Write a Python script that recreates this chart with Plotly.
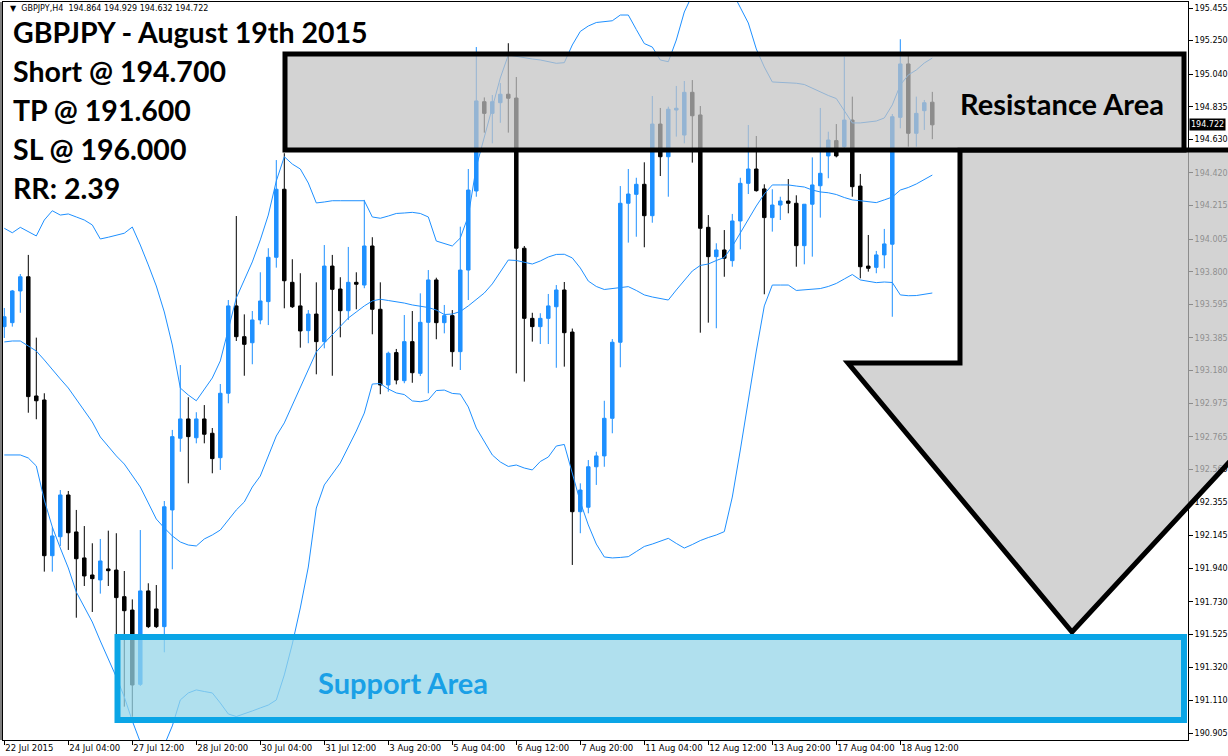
import plotly.graph_objects as go

# ---------------- data ----------------
bar_index = list(range(117))

opens = [193.456, 193.481, 193.680, 193.769, 193.021, 192.996, 192.019, 192.138, 192.400, 192.168,
         192.005, 191.898, 191.867, 191.936, 191.929, 191.762, 191.678, 191.212, 191.798, 191.685,
         191.574, 192.306, 192.756, 192.877, 192.759, 192.877, 192.787, 192.634, 193.038, 193.586,
         193.393, 193.355, 193.498, 193.613, 193.891, 194.318, 193.734, 193.586, 193.431, 193.535,
         193.362, 193.836, 193.692, 193.556, 193.734, 193.717, 193.962, 193.565, 193.090, 193.293,
         193.117, 193.362, 193.163, 193.483, 193.749, 193.481, 193.525, 193.299, 193.811, 194.307,
         194.867, 194.794, 194.861, 194.914, 194.890, 193.948, 193.508, 193.456, 193.508, 193.581,
         193.686, 193.422, 192.295, 192.323, 192.577, 192.645, 192.881, 193.358, 194.230, 194.286,
         194.349, 194.152, 194.727, 194.522, 194.815, 194.658, 194.926, 194.784, 194.079, 193.895,
         193.937, 193.870, 194.119, 194.355, 194.445, 194.320, 194.140, 194.219, 194.244, 194.230,
         193.964, 194.224, 194.340, 194.527, 194.623, 194.585, 194.752, 194.338, 193.836, 193.828,
         193.906, 193.973, 194.769, 195.104, 194.669, 194.811, 194.864]

highs = [193.573, 193.686, 193.786, 193.906, 193.387, 193.038, 192.197, 192.431, 192.425, 192.306,
         192.205, 192.097, 192.124, 192.176, 192.160, 191.923, 191.745, 192.180, 191.846, 191.835,
         192.362, 192.808, 193.215, 193.013, 192.919, 192.964, 192.820, 193.096, 193.623, 194.150,
         193.533, 193.554, 193.797, 193.948, 194.501, 194.544, 193.879, 193.791, 193.560, 193.734,
         193.968, 193.906, 193.766, 193.956, 193.797, 194.251, 194.017, 193.734, 193.299, 193.316,
         193.529, 193.554, 193.665, 193.811, 193.763, 193.592, 193.560, 194.083, 194.445, 195.210,
         194.894, 194.909, 194.984, 195.234, 195.022, 193.962, 193.543, 193.540, 193.661, 193.717,
         193.736, 193.444, 192.473, 192.619, 192.671, 192.991, 193.378, 194.338, 194.445, 194.390,
         194.487, 194.903, 194.828, 194.836, 194.966, 194.997, 195.003, 194.840, 194.156, 193.979,
         194.062, 194.163, 194.390, 194.721, 194.652, 194.349, 194.318, 194.271, 194.382, 194.280,
         194.224, 194.518, 194.828, 194.679, 194.727, 195.150, 194.899, 194.414, 194.031, 193.931,
         194.069, 194.790, 195.259, 195.154, 194.899, 194.878, 194.929]

lows = [193.385, 193.456, 193.543, 192.916, 192.875, 191.919, 191.919, 192.080, 192.055, 191.630,
        191.829, 191.666, 191.781, 191.829, 191.490, 191.072, 191.009, 191.202, 191.565, 191.565,
        191.413, 191.934, 192.671, 192.473, 192.724, 192.724, 192.536, 192.557, 192.975, 193.366,
        193.148, 193.220, 193.471, 193.466, 193.826, 193.571, 193.573, 193.324, 193.352, 193.157,
        193.320, 193.148, 193.389, 193.498, 193.565, 193.697, 193.408, 193.032, 193.048, 193.094,
        193.101, 193.104, 193.146, 193.038, 193.377, 193.414, 193.205, 193.184, 193.623, 194.271,
        194.673, 194.606, 194.735, 194.673, 193.163, 193.111, 193.362, 193.347, 193.347, 193.198,
        193.205, 191.961, 192.160, 192.285, 192.463, 192.577, 192.787, 193.201, 193.983, 194.020,
        193.954, 194.108, 194.401, 194.271, 194.648, 194.606, 194.485, 193.418, 193.481, 193.446,
        193.769, 193.832, 193.941, 194.288, 194.303, 193.659, 194.052, 194.125, 194.167, 193.832,
        193.847, 193.895, 194.140, 194.387, 194.518, 194.577, 194.271, 193.759, 193.801, 193.791,
        193.822, 193.518, 194.700, 194.585, 194.585, 194.690, 194.632]

closes = [193.518, 193.680, 193.769, 193.017, 192.991, 192.019, 192.143, 192.400, 192.163, 192.000,
          191.892, 191.875, 191.986, 191.925, 191.756, 191.674, 191.208, 191.798, 191.574, 191.574,
          192.326, 192.766, 192.877, 192.766, 192.877, 192.781, 192.628, 193.038, 193.586, 193.393,
          193.345, 193.498, 193.617, 193.891, 194.318, 193.744, 193.581, 193.429, 193.535, 193.362,
          193.836, 193.690, 193.556, 193.734, 193.722, 193.962, 193.565, 193.090, 193.289, 193.121,
          193.362, 193.167, 193.483, 193.749, 193.481, 193.525, 193.299, 193.811, 194.313, 194.872,
          194.794, 194.867, 194.914, 194.889, 193.948, 193.508, 193.456, 193.508, 193.586, 193.686,
          193.418, 192.295, 192.431, 192.577, 192.645, 192.881, 193.358, 194.230, 194.288, 194.349,
          194.152, 194.727, 194.522, 194.820, 194.826, 194.926, 194.779, 194.073, 193.895, 193.937,
          193.885, 194.119, 194.355, 194.445, 194.309, 194.140, 194.219, 194.244, 194.230, 193.964,
          194.224, 194.345, 194.418, 194.627, 194.527, 194.752, 194.334, 193.832, 193.822, 193.906,
          193.975, 194.773, 195.104, 194.669, 194.794, 194.861, 194.722]

band_upper = [194.073, 194.045, 194.079, 194.050, 194.025, 194.125, 194.183, 194.156, 194.163, 194.144,
              194.125, 194.094, 194.006, 194.017, 194.031, 194.042, 194.081, 193.968, 193.843, 193.711,
              193.548, 193.341, 193.071, 193.027, 192.991, 193.059, 193.134, 193.241, 193.435, 193.636,
              193.749, 193.862, 194.000, 194.156, 194.370, 194.522, 194.476, 194.445, 194.357, 194.232,
              194.238, 194.246, 194.246, 194.246, 194.246, 194.246, 194.144, 194.136, 194.150, 194.166,
              194.169, 194.173, 194.166, 194.144, 193.993, 193.975, 193.962, 194.012, 194.150, 194.459,
              194.646, 194.815, 195.016, 195.160, 195.151, 195.144, 195.135, 195.129, 195.119, 195.108,
              195.112, 195.223, 195.308, 195.342, 195.364, 195.368, 195.375, 195.411, 195.411, 195.320,
              195.232, 195.210, 195.129, 195.118, 195.254, 195.430, 195.537, 195.599, 195.643, 195.662,
              195.631, 195.555, 195.455, 195.361, 195.198, 195.085, 194.991, 194.988, 194.985, 194.983,
              194.975, 194.951, 194.928, 194.906, 194.887, 194.809, 194.734, 194.734, 194.740, 194.746,
              194.765, 194.847, 194.972, 195.035, 195.066, 195.110, 195.141]

band_middle = [193.360, 193.366, 193.366, 193.335, 193.303, 193.247, 193.184, 193.128, 193.071, 193.002,
               192.927, 192.858, 192.764, 192.701, 192.645, 192.594, 192.525, 192.450, 192.350, 192.249,
               192.193, 192.143, 192.105, 192.086, 192.080, 192.124, 192.149, 192.180, 192.243, 192.306,
               192.356, 192.450, 192.519, 192.645, 192.770, 192.852, 192.964, 193.084, 193.190, 193.297,
               193.353, 193.404, 193.454, 193.510, 193.548, 193.586, 193.617, 193.628, 193.620, 193.613,
               193.604, 193.592, 193.586, 193.576, 193.560, 193.532, 193.535, 193.551, 193.586, 193.629,
               193.667, 193.724, 193.799, 193.874, 193.871, 193.862, 193.849, 193.868, 193.893, 193.909,
               193.910, 193.887, 193.824, 193.742, 193.708, 193.689, 193.695, 193.702, 193.707, 193.683,
               193.655, 193.642, 193.633, 193.623, 193.686, 193.742, 193.805, 193.840, 193.849, 193.871,
               193.890, 193.959, 194.044, 194.134, 194.213, 194.288, 194.345, 194.345, 194.345, 194.338,
               194.332, 194.313, 194.301, 194.296, 194.285, 194.266, 194.251, 194.246, 194.240, 194.234,
               194.251, 194.269, 194.313, 194.329, 194.351, 194.379, 194.407]

band_lower = [192.651, 192.651, 192.651, 192.632, 192.582, 192.368, 192.199, 192.067, 191.942, 191.791,
              191.697, 191.603, 191.484, 191.371, 191.258, 191.133, 190.982, 190.850, 190.813, 190.800,
              190.831, 190.951, 191.114, 191.158, 191.177, 191.167, 191.158, 191.095, 191.026, 191.010,
              191.026, 191.045, 191.064, 191.082, 191.114, 191.271, 191.465, 191.691, 191.948, 192.318,
              192.463, 192.532, 192.601, 192.701, 192.801, 192.914, 193.096, 193.099, 193.065, 193.040,
              193.030, 192.990, 192.985, 192.996, 193.055, 193.058, 193.037, 193.033, 192.952, 192.820,
              192.739, 192.651, 192.607, 192.579, 192.588, 192.569, 192.557, 192.610, 192.638, 192.707,
              192.717, 192.532, 192.356, 192.212, 192.092, 192.011, 192.005, 192.008, 192.013, 192.045,
              192.077, 192.092, 192.111, 192.128, 192.096, 192.067, 192.089, 192.114, 192.133, 192.149,
              192.170, 192.387, 192.682, 192.996, 193.303, 193.586, 193.717, 193.717, 193.717, 193.683,
              193.686, 193.689, 193.695, 193.708, 193.727, 193.755, 193.783, 193.749, 193.739, 193.732,
              193.736, 193.733, 193.655, 193.650, 193.651, 193.658, 193.667]

x_tick_index = [0, 8, 16, 24, 32, 40, 48, 56, 64, 72, 80, 88, 96, 104, 112]
x_tick_labels = ["22 Jul 2015", "24 Jul 04:00", "27 Jul 12:00", "28 Jul 20:00", "30 Jul 04:00",
                 "31 Jul 12:00", "3 Aug 20:00", "5 Aug 04:00", "6 Aug 12:00", "7 Aug 20:00",
                 "11 Aug 04:00", "12 Aug 12:00", "13 Aug 20:00", "17 Aug 04:00", "18 Aug 12:00"]

price_ticks = [195.455, 195.250, 195.040, 194.835, 194.630, 194.420, 194.215, 194.005, 193.800,
               193.595, 193.385, 193.180, 192.975, 192.765, 192.560, 192.355, 192.145, 191.940,
               191.730, 191.525, 191.320, 191.110, 190.905]

last_price = 194.722
header_values = "GBPJPY,H4  194.864 194.929 194.632 194.722"
trade_lines = ["GBPJPY - August 19th 2015", "Short @ 194.700", "TP @ 191.600",
               "SL @ 196.000", "RR: 2.39"]

# ---------------- layout helpers (pixel -> paper) ----------------
W, H = 1228, 756
ML, MR, MT, MB = 3, 40, 2, 16
PW, PH = W - ML - MR, H - MT - MB


def px(x):
    return (x - ML) / PW


def py(y):
    return (MT + PH - y) / PH


BLUE = "#1E90FF"
XFONT = dict(family="DejaVu Sans", size=8.5, color="black")
YFONT = dict(family="DejaVu Sans", size=8, color="black")

fig = go.Figure()

for band in (band_upper, band_middle, band_lower):
    fig.add_trace(go.Scatter(x=bar_index, y=band, mode="lines",
                             line=dict(color=BLUE, width=1), hoverinfo="skip"))

fig.add_trace(go.Candlestick(
    x=bar_index, open=opens, high=highs, low=lows, close=closes,
    increasing=dict(line=dict(color=BLUE, width=1), fillcolor=BLUE),
    decreasing=dict(line=dict(color="black", width=1), fillcolor="black"),
    whiskerwidth=0,
))

# ---------------- overlays ----------------
shapes = []
arrow_pts = [(960, 150), (960, 363), (848, 363), (1072, 632), (1321, 363), (1300, 363), (1300, 150)]
path = "M " + " L ".join(f"{px(a):.5f},{py(b):.5f}" for a, b in arrow_pts) + " Z"
shapes.append(dict(type="path", xref="paper", yref="paper", path=path,
                   fillcolor="rgba(194,194,194,0.72)", line=dict(color="black", width=5),
                   layer="above"))
shapes.append(dict(type="rect", xref="paper", yref="paper",
                   x0=px(285), x1=px(1184), y0=py(150), y1=py(54),
                   fillcolor="rgba(194,194,194,0.72)", line=dict(color="black", width=5),
                   layer="above"))
shapes.append(dict(type="rect", xref="paper", yref="paper",
                   x0=px(117.5), x1=px(1184), y0=py(720), y1=py(637),
                   fillcolor="rgba(150,214,232,0.75)", line=dict(color="#0AA5E6", width=6),
                   layer="above"))
shapes.append(dict(type="line", xref="paper", yref="paper", x0=px(1), x1=px(1), y0=py(740), y1=py(2),
                   line=dict(color="black", width=1), layer="above"))

annotations = []
annotations.append(dict(xref="paper", yref="paper", x=px(8), y=py(9), xanchor="left", yanchor="middle",
                        text="▼  " + header_values, showarrow=False,
                        font=dict(family="DejaVu Sans", size=8, color="black")))
for k, line in enumerate(trade_lines):
    annotations.append(dict(xref="paper", yref="paper", x=px(11), y=py(32 + 39 * k),
                            xanchor="left", yanchor="middle", text="<b>" + line + "</b>",
                            showarrow=False, font=dict(family="Lato", size=28.5, color="black")))
annotations.append(dict(xref="paper", yref="paper", x=px(1062), y=py(103), xanchor="center",
                        yanchor="middle", text="<b>Resistance Area</b>", showarrow=False,
                        font=dict(family="Lato", size=29, color="black")))
annotations.append(dict(xref="paper", yref="paper", x=px(403), y=py(682), xanchor="center",
                        yanchor="middle", text="<b>Support Area</b>", showarrow=False,
                        font=dict(family="Lato", size=29, color="#1AA0E6")))
annotations.append(dict(xref="paper", yref="y", x=1.0, y=last_price, xanchor="left", yanchor="middle",
                        text=f"{last_price:.3f}", showarrow=False, bgcolor="black", borderpad=1,
                        xshift=1, font=dict(family="DejaVu Sans", size=8, color="white")))

fig.update_layout(
    width=W, height=H, margin=dict(l=ML, r=MR, t=MT, b=MB, autoexpand=False),
    paper_bgcolor="white", plot_bgcolor="white", showlegend=False,
    boxgap=0.38, shapes=shapes, annotations=annotations,
    xaxis=dict(range=[(ML - 4.3) / 8, (ML + PW - 4.3) / 8], showgrid=False, zeroline=False,
               rangeslider=dict(visible=False), showline=True, linecolor="black", linewidth=1,
               mirror=True, ticks="outside", ticklen=4, tickcolor="black", tickangle=0,
               automargin=False, tickvals=x_tick_index, ticktext=x_tick_labels,
               ticklabelposition="outside right", tickfont=XFONT),
    yaxis=dict(range=[195.5052 - (MT + PH) / 159.4, 195.5052 - MT / 159.4], side="right",
               showgrid=False, zeroline=False, showline=True, linecolor="black", linewidth=1,
               mirror=True, ticks="outside", ticklen=4, tickcolor="black", automargin=False,
               tickvals=price_ticks, ticktext=[f"{v:.3f}" for v in price_ticks], tickfont=YFONT),
)

fig.write_html("out.html", config={"displayModeBar": False},
               post_script="document.body.style.margin='0px';")
